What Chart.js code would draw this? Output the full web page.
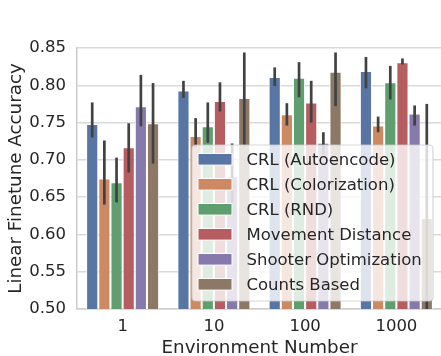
<!DOCTYPE html>
<html>
<head>
<meta charset="utf-8">
<script src="https://cdn.jsdelivr.net/npm/chart.js@4.4.1/dist/chart.umd.min.js"></script>
<style>
html,body{margin:0;padding:0;overflow:hidden;background:#fff;}
#wrap{width:441px;height:356px;overflow:hidden;}
canvas{display:block;}
</style>
</head>
<body>
<div id="wrap"><canvas id="c" width="442" height="356"></canvas></div>
<script>
const categories = ['1', '10', '100', '1000'];
const seriesNames = ['CRL (Autoencode)', 'CRL (Colorization)', 'CRL (RND)', 'Movement Distance', 'Shooter Optimization', 'Counts Based'];
const seriesColors = ['#5975A4', '#CC8963', '#5F9E6E', '#B55D60', '#857AAB', '#8D7866'];

const autoencode   = [0.748, 0.793, 0.811, 0.819];
const colorization = [0.675, 0.732, 0.761, 0.746];
const rnd          = [0.670, 0.745, 0.810, 0.804];
const movement     = [0.717, 0.779, 0.777, 0.831];
const shooter      = [0.772, 0.678, 0.723, 0.762];
const counts       = [0.749, 0.783, 0.818, 0.622];

const autoencodeLow   = [0.730, 0.783, 0.799, 0.796];
const colorizationLow = [0.640, 0.717, 0.746, 0.737];
const rndLow          = [0.643, 0.723, 0.784, 0.781];
const movementLow     = [0.683, 0.765, 0.750, 0.828];
const shooterLow      = [0.745, 0.625, 0.708, 0.746];
const countsLow       = [0.695, 0.720, 0.772, 0.460];

const autoencodeHigh   = [0.777, 0.806, 0.824, 0.838];
const colorizationHigh = [0.726, 0.756, 0.776, 0.758];
const rndHigh          = [0.703, 0.777, 0.831, 0.826];
const movementHigh     = [0.749, 0.804, 0.806, 0.836];
const shooterHigh      = [0.814, 0.722, 0.737, 0.773];
const countsHigh       = [0.803, 0.844, 0.844, 0.775];

const yTicks = [0.50, 0.55, 0.60, 0.65, 0.70, 0.75, 0.80, 0.85];
const xTitle = 'Environment Number';
const yTitle = 'Linear Finetune Accuracy';

const means = [autoencode, colorization, rnd, movement, shooter, counts];
const lows = [autoencodeLow, colorizationLow, rndLow, movementLow, shooterLow, countsLow];
const highs = [autoencodeHigh, colorizationHigh, rndHigh, movementHigh, shooterHigh, countsHigh];

const FONT = 'DejaVu Sans';
const TXT = '#262626';

const errorBars = {
  id: 'errorBars',
  afterDatasetsDraw(chart) {
    const ctx = chart.ctx, ys = chart.scales.y, a = chart.chartArea;
    ctx.save();
    ctx.beginPath();
    ctx.rect(a.left, a.top, a.right - a.left, a.bottom - a.top);
    ctx.clip();
    ctx.strokeStyle = '#424242';
    ctx.lineWidth = 2.7;
    ctx.lineCap = 'butt';
    chart.data.datasets.forEach((ds, i) => {
      const meta = chart.getDatasetMeta(i);
      meta.data.forEach((bar, j) => {
        const y1 = ys.getPixelForValue(lows[i][j]);
        const y2 = ys.getPixelForValue(highs[i][j]);
        ctx.beginPath();
        ctx.moveTo(bar.x, y1);
        ctx.lineTo(bar.x, y2);
        ctx.stroke();
      });
    });
    ctx.restore();

    // legend box (drawn over the bars, semi-transparent like matplotlib)
    const fs = 16.5;
    const L = 192, T = 145, R = a.right - 9, B = 301;
    ctx.save();
    const r = 4;
    ctx.beginPath();
    ctx.moveTo(L + r, T);
    ctx.lineTo(R - r, T); ctx.quadraticCurveTo(R, T, R, T + r);
    ctx.lineTo(R, B - r); ctx.quadraticCurveTo(R, B, R - r, B);
    ctx.lineTo(L + r, B); ctx.quadraticCurveTo(L, B, L, B - r);
    ctx.lineTo(L, T + r); ctx.quadraticCurveTo(L, T, L + r, T);
    ctx.closePath();
    ctx.fillStyle = 'rgba(255,255,255,0.8)';
    ctx.fill();
    ctx.strokeStyle = 'rgba(204,204,204,0.8)';
    ctx.lineWidth = 1.2;
    ctx.stroke();
    ctx.font = fs + 'px "' + FONT + '"';
    ctx.textBaseline = 'middle';
    ctx.textAlign = 'left';
    seriesNames.forEach((name, i) => {
      const cy = 159.3 + i * 25;
      ctx.fillStyle = seriesColors[i];
      ctx.fillRect(198, cy - 5.8, 34, 11.6);
      ctx.strokeStyle = '#ffffff';
      ctx.lineWidth = 1;
      ctx.strokeRect(198, cy - 5.8, 34, 11.6);
      ctx.fillStyle = TXT;
      ctx.fillText(name, 246.5, cy + 1);
    });
    ctx.restore();
  }
};

new Chart(document.getElementById('c'), {
  type: 'bar',
  data: {
    labels: categories,
    datasets: seriesNames.map((n, i) => ({
      label: n,
      data: means[i],
      backgroundColor: seriesColors[i],
      borderColor: '#ffffff',
      borderWidth: 1,
      borderSkipped: false,
      categoryPercentage: 0.8,
      barPercentage: 1.0
    }))
  },
  options: {
    responsive: false,
    animation: false,
    devicePixelRatio: 1,
    layout: { padding: { top: 48, right: 0, bottom: 0, left: 0 } },
    plugins: { legend: { display: false }, tooltip: { enabled: false } },
    scales: {
      x: {
        grid: { display: false, drawTicks: false },
        border: { display: true, color: '#cccccc', width: 1.5 },
        ticks: { color: TXT, font: { family: FONT, size: 16.5 }, padding: 8 },
        title: { display: true, text: xTitle, color: TXT, font: { family: FONT, size: 18.3, lineHeight: 0.8 }, padding: { top: 0, bottom: 0 } },
        afterFit(s) { s.height = 47; }
      },
      y: {
        min: 0.5, max: 0.85,
        afterBuildTicks(s) { s.ticks = yTicks.map(v => ({ value: v })); },
        grid: { color: '#dadada', lineWidth: 1.5, drawTicks: false },
        border: { display: true, color: '#cccccc', width: 1.5 },
        ticks: { color: TXT, font: { family: FONT, size: 16.5 }, padding: 11, callback: v => v.toFixed(2) },
        title: { display: true, text: yTitle, color: TXT, font: { family: FONT, size: 18.3 }, padding: { top: 5.5, bottom: 0 } },
        afterFit(s) { s.width = 77; }
      }
    }
  },
  plugins: [errorBars]
});
</script>
</body>
</html>
